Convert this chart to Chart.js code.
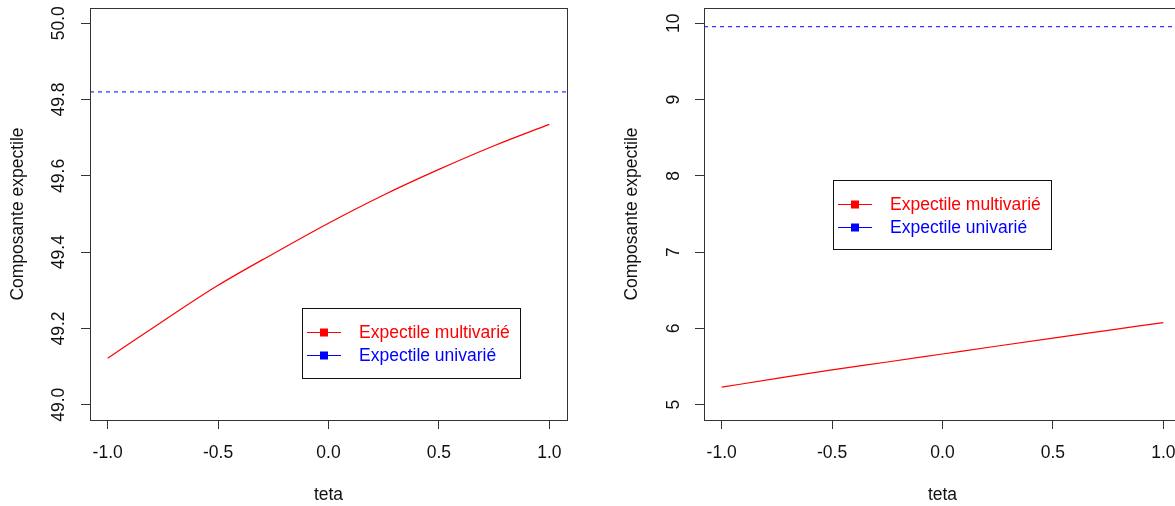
<!DOCTYPE html>
<html>
<head>
<meta charset="utf-8">
<script src="https://cdn.jsdelivr.net/npm/chart.js@4.4.1/dist/chart.umd.min.js"></script>
<style>
  html, body { margin: 0; padding: 0; background: #fff; }
  #wrap { position: relative; width: 1175px; height: 506px; overflow: hidden; }
  canvas { position: absolute; top: 0; }
  #left { left: 0; }
  #right { left: 614px; }
</style>
</head>
<body>
<div id="wrap">
  <canvas id="left" width="600" height="506"></canvas>
  <canvas id="right" width="600" height="506"></canvas>
</div>
<script>
const teta = [-1, -0.75, -0.5, -0.25, 0, 0.25, 0.5, 0.75, 1];
const multiLeft = [49.122, 49.219, 49.313, 49.396, 49.476, 49.550, 49.617, 49.679, 49.735];
const univLeft = 49.82;
const multiRight = [5.230, 5.345, 5.458, 5.560, 5.665, 5.770, 5.873, 5.975, 6.077];
const univRight = 9.955;

// Axes
const xLimits = [-1.08, 1.08];
const xTicks = [-1.0, -0.5, 0.0, 0.5, 1.0];
const yLimitsLeft = [48.96, 50.04];
const yTicksLeft = [49.0, 49.2, 49.4, 49.6, 49.8, 50.0];
const yLimitsRight = [4.8, 10.2];
const yTicksRight = [5, 6, 7, 8, 9, 10];

const legendLabels = ['Expectile multivarié', 'Expectile univarié'];
const seriesColors = ['#ff0000', '#0000ff'];

const FAMILY = '"Liberation Sans", Arial, sans-serif';
const FONT_SIZE = 17.5;

// Cadre du graphique + légende façon R
const rStyle = {
  id: 'rStyle',
  afterDraw(chart, args, opts) {
    const { ctx, chartArea: a } = chart;
    ctx.save();
    ctx.strokeStyle = '#333';
    ctx.lineWidth = 1;
    ctx.strokeRect(Math.round(a.left) + 0.5, Math.round(a.top) + 0.5,
      Math.round(a.right - a.left), Math.round(a.bottom - a.top));

    const bx = Math.round(a.left + opts.dx), by = Math.round(a.top + opts.dy);
    ctx.fillStyle = '#fff';
    ctx.fillRect(bx, by, opts.w, opts.h);
    ctx.strokeStyle = '#111';
    ctx.strokeRect(bx + 0.5, by + 0.5, opts.w, opts.h);

    ctx.font = FONT_SIZE + 'px ' + FAMILY;
    ctx.textBaseline = 'middle';
    ctx.textAlign = 'left';
    chart.data.datasets.forEach((ds, i) => {
      const y = by + 24 + i * 23;
      ctx.strokeStyle = ds.borderColor;
      ctx.beginPath();
      ctx.moveTo(bx + 5, y + 0.5);
      ctx.lineTo(bx + 39, y + 0.5);
      ctx.stroke();
      ctx.fillStyle = ds.borderColor;
      ctx.fillRect(bx + 18, y - 3.5, 8, 8);
      ctx.fillText(ds.label, bx + 57, y + 1);
    });
    ctx.restore();
  }
};

function makeChart(id, multi, univ, yLimits, yTicks, dec, yPad, legendPos) {
  const axisFont = { family: FAMILY, size: FONT_SIZE };
  return new Chart(document.getElementById(id), {
    type: 'line',
    data: {
      datasets: [
        {
          label: legendLabels[0],
          data: teta.map((t, i) => ({ x: t, y: multi[i] })),
          borderColor: seriesColors[0],
          borderWidth: 1.2,
          pointRadius: 0,
          cubicInterpolationMode: 'monotone'
        },
        {
          label: legendLabels[1],
          data: xLimits.map(t => ({ x: t, y: univ })),
          borderColor: seriesColors[1],
          borderWidth: 1,
          borderDash: [4, 4],
          pointRadius: 0
        }
      ]
    },
    options: {
      responsive: false,
      animation: false,
      devicePixelRatio: 1,
      layout: { padding: { top: 8, right: 33, bottom: 0, left: 0 } },
      plugins: {
        legend: { display: false },
        tooltip: { enabled: false },
        rStyle: legendPos
      },
      scales: {
        x: {
          type: 'linear',
          min: xLimits[0],
          max: xLimits[1],
          afterBuildTicks: s => { s.ticks = xTicks.map(v => ({ value: v })); },
          afterFit: s => { s.height = 86; s.paddingLeft = 0; s.paddingRight = 0; },
          grid: { drawOnChartArea: false, drawTicks: true, tickLength: 9, color: '#333' },
          border: { display: false },
          ticks: {
            color: '#111', font: axisFont, padding: 14, maxRotation: 0,
            callback: v => v.toFixed(1)
          },
          title: {
            display: true, text: 'teta', color: '#111', font: axisFont,
            padding: { top: 0, bottom: 0 }
          }
        },
        y: {
          type: 'linear',
          min: yLimits[0],
          max: yLimits[1],
          afterBuildTicks: s => { s.ticks = yTicks.map(v => ({ value: v })); },
          afterFit: s => { s.width = 90; s.paddingTop = 0; s.paddingBottom = 0; },
          grid: { drawOnChartArea: false, drawTicks: true, tickLength: 9, color: '#333' },
          border: { display: false },
          ticks: {
            color: '#111', font: axisFont, padding: yPad,
            minRotation: 90, maxRotation: 90, crossAlign: 'center',
            callback: v => v.toFixed(dec)
          },
          title: {
            display: true, text: 'Composante expectile', color: '#111', font: axisFont,
            padding: { top: 8, bottom: 0 }
          }
        }
      }
    },
    plugins: [rStyle]
  });
}

makeChart('left', multiLeft, univLeft, yLimitsLeft, yTicksLeft, 1, 5, { dx: 212, dy: 300, w: 218, h: 70 });
makeChart('right', multiRight, univRight, yLimitsRight, yTicksRight, 0, 11, { dx: 129, dy: 172, w: 218, h: 69 });
</script>
</body>
</html>
